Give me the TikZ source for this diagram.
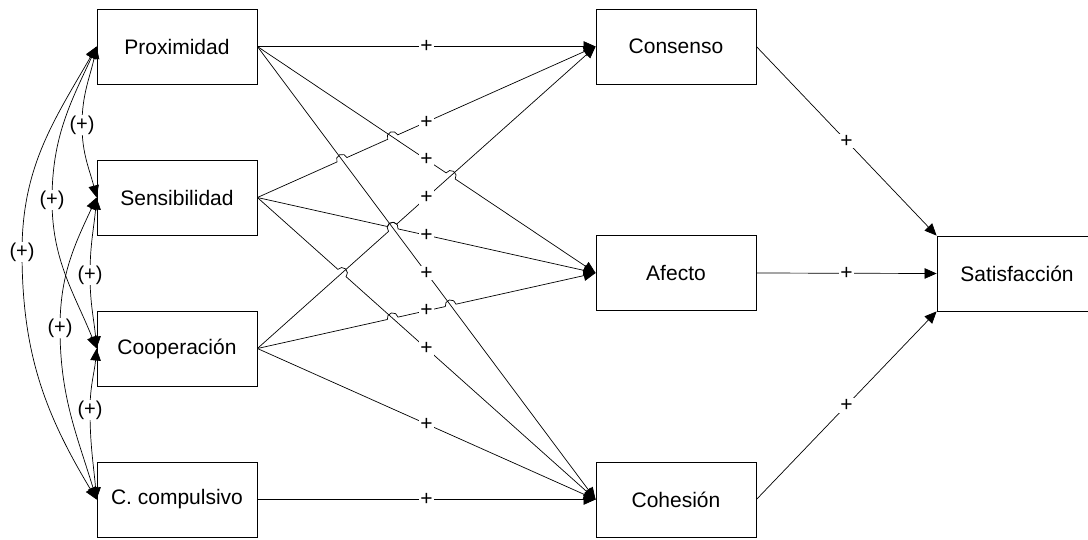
\documentclass[tikz,border=0pt]{standalone}
\usepackage{fontspec}
\setmainfont{Liberation Sans}
\usetikzlibrary{arrows.meta,calc}

% radius of the small hops where a link passes over another one
\newcommand\hoprad{5.5pt}

\begin{document}
\begin{tikzpicture}[x=1pt,y=1pt,
  box/.style={draw, line width=0.8pt, minimum width=160pt, minimum height=75pt,
              inner sep=0pt, font=\fontsize{21}{25}\selectfont},
  tip/.tip={Triangle[length=12pt,width=10.5pt]},
  link/.style={line width=0.7pt, -tip},
  corrlink/.style={line width=0.7pt, tip-tip},
  plus/.style={fill=white, inner sep=1.2pt, font=\fontsize{21}{25}\selectfont},
  corr/.style={fill=white, inner sep=0.6pt, font=\fontsize{20}{24}\selectfont}
]
\useasboundingbox (0,0) rectangle (1088,-539);

% ---- variables ----
\node[box] (prox) at (177,-46.5)  {Proximidad};
\node[box] (sens) at (177,-197.5) {Sensibilidad};
\node[box] (coop) at (177,-348.5) {Cooperación};
\node[box] (comp) at (177,-499.5) {C. compulsivo};

\node[box] (cons) at (676,-46.5)  {Consenso};
\node[box] (afec) at (676,-273)   {Afecto};
\node[box] (cohe) at (676,-499.5) {Cohesión};

\node[box] (sat)  at (1017,-273.5) {Satisfacción};

% ---- crossing points (fractions along the straight links) ----
\coordinate (x24) at ($(sens.east)!0.4!(cons.west)$);
\coordinate (x34) at ($(sens.east)!0.25!(cons.west)$);
\coordinate (x27) at ($(prox.east)!0.571429!(afec.west)$);
\coordinate (x35) at ($(sens.east)!0.4!(afec.west)$);
\coordinate (x67) at ($(sens.east)!0.25!(cohe.west)$);
\coordinate (x68) at ($(coop.east)!0.4!(afec.west)$);
\coordinate (x38) at ($(coop.east)!0.571429!(afec.west)$);

% ---- links from the first column ----
\draw[link] (prox.east) -- (cons.west);
\draw[link] let \p1=($(afec.west)-(prox.east)$), \n1={atan2(\y1,\x1)} in
  (prox.east) -- ($(x27)!\hoprad!(prox.east)$)
  arc[start angle=\n1+180, end angle=\n1, radius=\hoprad] -- (afec.west);
\draw[link] (prox.east) -- (cohe.west);

\draw[link] let \p1=($(cons.west)-(sens.east)$), \n1={atan2(\y1,\x1)} in
  (sens.east) -- ($(x34)!\hoprad!(sens.east)$)
  arc[start angle=\n1+180, end angle=\n1, radius=\hoprad]
  -- ($(x24)!\hoprad!(sens.east)$)
  arc[start angle=\n1+180, end angle=\n1, radius=\hoprad] -- (cons.west);
\draw[link] let \p1=($(afec.west)-(sens.east)$), \n1={atan2(\y1,\x1)} in
  (sens.east) -- ($(x35)!\hoprad!(sens.east)$)
  arc[start angle=\n1+180, end angle=\n1, radius=\hoprad] -- (afec.west);
\draw[link] let \p1=($(cohe.west)-(sens.east)$), \n1={atan2(\y1,\x1)} in
  (sens.east) -- ($(x67)!\hoprad!(sens.east)$)
  arc[start angle=\n1+180, end angle=\n1, radius=\hoprad] -- (cohe.west);

\draw[link] let \p1=($(cons.west)-(coop.east)$), \n1={atan2(\y1,\x1)} in
  (coop.east) -- ($(x35)!\hoprad!(coop.east)$)
  arc[start angle=\n1+180, end angle=\n1, radius=\hoprad] -- (cons.west);
\draw[link] let \p1=($(afec.west)-(coop.east)$), \n1={atan2(\y1,\x1)} in
  (coop.east) -- ($(x68)!\hoprad!(coop.east)$)
  arc[start angle=\n1+180, end angle=\n1, radius=\hoprad]
  -- ($(x38)!\hoprad!(coop.east)$)
  arc[start angle=\n1+180, end angle=\n1, radius=\hoprad] -- (afec.west);
\draw[link] (coop.east) -- (cohe.west);

\draw[link] (comp.east) -- (cohe.west);

% ---- links into the outcome ----
\draw[link] (cons.east) -- (sat.north west);
\draw[link] (afec.east) -- (sat.west);
\draw[link] (cohe.east) -- (sat.south west);

% ---- signs on the links ----
\foreach \a/\b in {prox/cons, prox/afec, prox/cohe, sens/cons, sens/afec,
                   sens/cohe, coop/cons, coop/afec, coop/cohe, comp/cohe}
  \node[plus] at ($(\a.east)!0.5!(\b.west)$) {+};
\node[plus] at ($(cons.east)!0.5!(sat.north west)$) {+};
\node[plus] at ($(afec.east)!0.5!(sat.west)$) {+};
\node[plus] at ($(cohe.east)!0.5!(sat.south west)$) {+};

% ---- correlations among the first column ----
\coordinate (c12) at (82,-125);
\coordinate (c13) at (52,-200);
\coordinate (c14) at (22,-252);
\coordinate (c23) at (90,-275);
\coordinate (c24) at (60,-328);
\coordinate (c34) at (90,-410);

\draw[corrlink] (prox.west) to[out=258,in=90] (c12) to[out=270,in=104] (sens.west);
\draw[corrlink] (prox.west) to[out=245,in=90] (c13) to[out=270,in=112] (coop.west);
\draw[corrlink] (prox.west) to[out=240,in=90] (c14) to[out=270,in=121] (comp.west);
\draw[corrlink] (sens.west) to[out=265,in=90] (c23) to[out=270,in=95]  (coop.west);
\draw[corrlink] (sens.west) to[out=245,in=90] (c24) to[out=270,in=107] (comp.west);
\draw[corrlink] (coop.west) to[out=265,in=90] (c34) to[out=270,in=95]  (comp.west);

\foreach \c in {c12,c13,c14,c23,c24,c34}
  \node[corr] at (\c) {(+)};
\end{tikzpicture}
\end{document}
